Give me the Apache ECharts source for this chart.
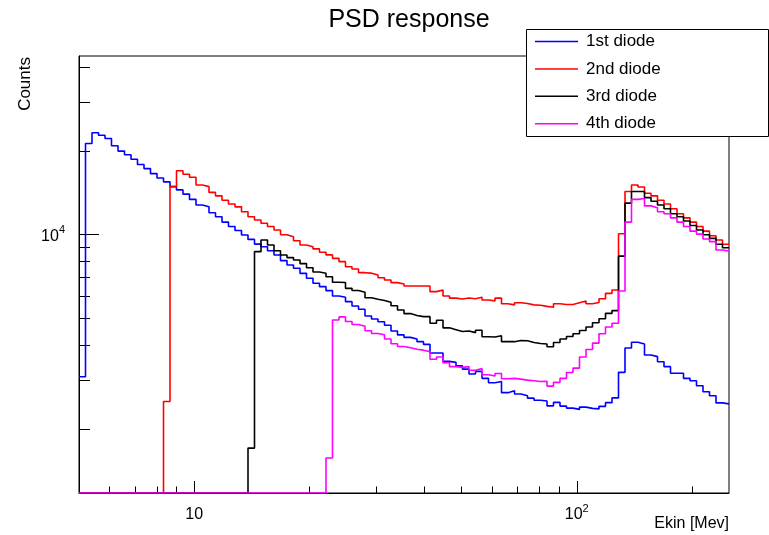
<!DOCTYPE html>
<html><head><meta charset="utf-8">
<script src="https://cdn.jsdelivr.net/npm/echarts@6/dist/echarts.min.js"></script>
<style>html,body{margin:0;padding:0;background:#fff}#c{width:769px;height:535px}</style>
</head><body><div id="c"></div>
<script>
const TITLE = 'PSD response';
const X_NAME = 'Ekin [Mev]';
const Y_NAME = 'Counts';
const SERIES_NAMES = ['1st diode', '2nd diode', '3rd diode', '4th diode'];
const SERIES_COLORS = ['#0000ff', '#ff0000', '#000000', '#ff00ff'];
const X_MIN = 5, X_MAX = 250, N_BINS = 100;
const Y_MIN = 1175, Y_MAX = 44000;
const X_MAJOR_TICKS = [10, 100];
const X_MINOR_TICKS = [6, 7, 8, 9, 20, 30, 40, 50, 60, 70, 80, 90, 200];
const Y_MAJOR_TICKS = [10000];
const Y_MINOR_TICKS = [2000, 3000, 4000, 5000, 6000, 7000, 8000, 9000, 20000, 30000, 40000];

// bin contents (100 log-spaced bins, 5 .. 250 MeV); 0 = empty bin
const DIODE1 = [3080, 21300, 23300, 22800, 22200, 20900, 20000, 19400, 18700, 17900,
  17300, 16600, 16000, 15500, 14900, 14500, 14000, 13400, 12800, 12600,
  12000, 11600, 11100, 10700, 10350, 9980, 9620, 9250, 9050, 8760,
  8450, 8070, 7780, 7570, 7260, 6970, 6690, 6500, 6290, 6020,
  5950, 5740, 5540, 5390, 5100, 4970, 4860, 4720, 4500, 4360,
  4270, 4210, 4120, 4030, 3750, 3750, 3500, 3470, 3370, 3280,
  3150, 3220, 3040, 2930, 2960, 2700, 2745, 2670, 2630, 2580,
  2535, 2520, 2420, 2490, 2415, 2375, 2350, 2395, 2370, 2360,
  2410, 2485, 2585, 3195, 3910, 4100, 4040, 3690, 3640, 3490,
  3350, 3170, 3170, 3040, 2980, 2860, 2720, 2630, 2480, 2460];
const DIODE2 = [0, 0, 0, 0, 0, 0, 0, 0, 0, 0,
  0, 0, 0, 2510, 14900, 17000, 16500, 16100, 15100, 14900,
  14200, 13800, 13300, 12900, 12600, 12100, 11600, 11300, 11000, 10700,
  10400, 10000, 9840, 9510, 9180, 9050, 8890, 8650, 8460, 8220,
  8000, 7670, 7530, 7300, 7270, 7160, 7000, 6870, 6720, 6650,
  6540, 6540, 6540, 6540, 6240, 6320, 6020, 5910, 5870, 5920,
  5880, 5950, 5820, 5780, 5910, 5640, 5590, 5690, 5650, 5590,
  5570, 5520, 5480, 5640, 5610, 5610, 5690, 5770, 5640, 5700,
  5880, 6150, 6320, 10080, 14300, 15100, 14850, 14100, 13800, 13300,
  12900, 12400, 11900, 11500, 11100, 10700, 10300, 9920, 9570, 9240];
const DIODE3 = [0, 0, 0, 0, 0, 0, 0, 0, 0, 0,
  0, 0, 0, 0, 0, 0, 0, 0, 0, 0,
  0, 0, 0, 0, 0, 0, 1705, 8690, 9570, 9180,
  8750, 8450, 8270, 8110, 7870, 7600, 7340, 7270, 7060, 6740,
  6730, 6410, 6300, 6210, 5930, 5860, 5800, 5710, 5550, 5360,
  5200, 5120, 5070, 5070, 4800, 4920, 4620, 4550, 4480, 4500,
  4440, 4530, 4290, 4280, 4330, 4120, 4120, 4160, 4150, 4090,
  4060, 4040, 3950, 4090, 4210, 4300, 4400, 4520, 4650, 4820,
  4980, 5210, 5330, 8370, 12990, 14300, 14300, 13600, 13200, 12800,
  12400, 11900, 11600, 11200, 10800, 10400, 10000, 9700, 9240, 8980];
const DIODE4 = [0, 0, 0, 0, 0, 0, 0, 0, 0, 0,
  0, 0, 0, 0, 0, 0, 0, 0, 0, 0,
  0, 0, 0, 0, 0, 0, 0, 0, 0, 0,
  0, 0, 0, 0, 0, 0, 0, 0, 1570, 4930,
  5060, 4870, 4750, 4680, 4510, 4410, 4360, 4210, 4050, 3960,
  3920, 3870, 3840, 3790, 3560, 3630, 3460, 3350, 3330, 3350,
  3250, 3300, 3130, 3100, 3165, 3030, 3040, 3020, 2995, 2980,
  2960, 2965, 2850, 2940, 3040, 3190, 3310, 3630, 3860, 4070,
  4400, 4650, 4800, 6270, 11100, 13400, 13500, 12700, 12500, 12100,
  11900, 11500, 11100, 10700, 10300, 10050, 9650, 9440, 8810, 8740];

const SERIES_VALUES = [DIODE1, DIODE2, DIODE3, DIODE4];
const BIN_EDGES = Array.from({length: N_BINS + 1}, (_, i) => X_MIN * Math.pow(X_MAX / X_MIN, i / N_BINS));

function histSteps(values) {
  // empty bins are drawn on the frame bottom, like ROOT does on a log axis
  const pts = values.map((v, i) => [BIN_EDGES[i], v > 0 ? v : Y_MIN]);
  const last = values[values.length - 1];
  pts.push([BIN_EDGES[N_BINS], last > 0 ? last : Y_MIN]);
  return pts;
}

const FONT = 'Liberation Sans';
const chart = echarts.init(document.getElementById('c'), null, {renderer: 'canvas'});

function powLabel(v) {
  const e = Math.round(Math.log10(v));
  return e === 1 ? '{b|10}' : '{b|10}{s|' + e + '}';
}
const richLab = {
  b: {fontFamily: FONT, fontSize: 16, color: '#000', lineHeight: 20, verticalAlign: 'bottom'},
  s: {fontFamily: FONT, fontSize: 11, color: '#000', lineHeight: 11, verticalAlign: 'top'}
};

const xCommon = {type: 'log', logBase: 10, min: X_MIN, max: X_MAX, position: 'bottom', offset: 0, splitLine: {show: false}, minorTick: {show: false}};
const yCommon = {type: 'log', logBase: 10, min: Y_MIN, max: Y_MAX, position: 'left', offset: 0, splitLine: {show: false}, minorTick: {show: false}};

const option = {
  animation: false,
  backgroundColor: '#fff',
  title: {
    text: TITLE, left: 404, top: 3, textAlign: 'center',
    textStyle: {fontFamily: FONT, fontSize: 25, fontWeight: 'normal', color: '#000'}
  },
  grid: {left: 79, right: 40, top: 56, bottom: 42, show: true, borderColor: '#000', borderWidth: 1, backgroundColor: 'transparent'},
  xAxis: [
    Object.assign({}, xCommon, {
      axisLine: {show: true, lineStyle: {color: '#000', width: 1}},
      axisTick: {show: true, inside: true, length: 12, customValues: X_MAJOR_TICKS, lineStyle: {color: '#000', width: 1}},
      axisLabel: {show: true, customValues: X_MAJOR_TICKS, margin: 10, formatter: powLabel, rich: richLab}
    }),
    Object.assign({}, xCommon, {
      axisLine: {show: false},
      axisTick: {show: true, inside: true, length: 6.5, customValues: X_MINOR_TICKS, lineStyle: {color: '#000', width: 1}},
      axisLabel: {show: false}
    })
  ],
  yAxis: [
    Object.assign({}, yCommon, {
      axisLine: {show: true, lineStyle: {color: '#000', width: 1}},
      axisTick: {show: true, inside: true, length: 20, customValues: Y_MAJOR_TICKS, lineStyle: {color: '#000', width: 1}},
      axisLabel: {show: true, customValues: Y_MAJOR_TICKS, margin: 14, formatter: powLabel, rich: richLab}
    }),
    Object.assign({}, yCommon, {
      axisLine: {show: false},
      axisTick: {show: true, inside: true, length: 11, customValues: Y_MINOR_TICKS, lineStyle: {color: '#000', width: 1}},
      axisLabel: {show: false}
    })
  ],
  legend: {
    orient: 'vertical', left: 535, top: 33, padding: 0, z: 20,
    icon: 'rect', itemWidth: 43, itemHeight: 1.5, itemGap: 10.4,
    data: SERIES_NAMES,
    textStyle: {fontFamily: FONT, fontSize: 17, lineHeight: 17, color: '#000', padding: [0, 0, 0, 3]}
  },
  graphic: [
    {type: 'rect', z: 15, shape: {x: 526.5, y: 29.5, width: 242, height: 107}, style: {fill: '#fff', stroke: '#000', lineWidth: 1}},
    {type: 'text', x: 25, y: 57, rotation: Math.PI / 2, style: {text: Y_NAME, fontFamily: FONT, fontSize: 17, fill: '#000', align: 'right', verticalAlign: 'middle'}},
    {type: 'text', x: 729, y: 524, style: {text: X_NAME, fontFamily: FONT, fontSize: 16, fill: '#000', align: 'right', verticalAlign: 'middle'}}
  ],
  series: SERIES_NAMES.map((name, i) => ({
    name: name, type: 'line', xAxisIndex: 0, yAxisIndex: 0,
    step: 'end', showSymbol: false, symbol: 'none', clip: true,
    color: SERIES_COLORS[i],
    lineStyle: {color: SERIES_COLORS[i], width: 1.6},
    data: histSteps(SERIES_VALUES[i])
  }))
};
chart.setOption(option);
</script>
</body></html>
